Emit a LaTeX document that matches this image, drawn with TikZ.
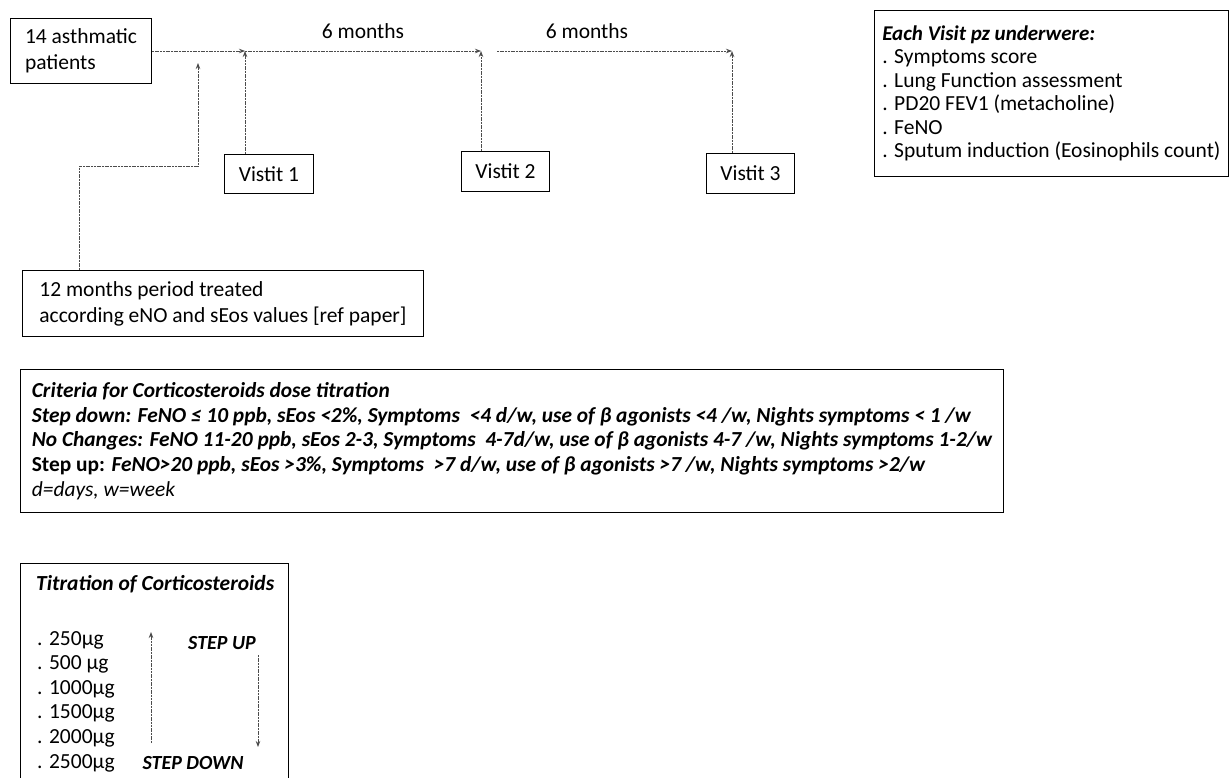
\documentclass[tikz,border=0pt]{standalone}
\usepackage{fontspec}
\setmainfont{Carlito}
\usetikzlibrary{arrows.meta}
\begin{document}
\begin{tikzpicture}[x=1pt,y=-1pt,
  box/.style={draw=black, line width=1pt, inner sep=0pt, align=left},
  conn/.style={draw=black!70, line width=0.9pt, dash pattern=on 2pt off 0.7pt},
  arr/.style={conn, -{Stealth[length=6pt,width=4.5pt]}},
  txt/.style={font=\fontsize{21.5}{26}\selectfont},
  bi/.style={font=\fontsize{21.5}{24}\selectfont\bfseries\itshape},
  bis/.style={font=\fontsize{20}{24}\selectfont\bfseries\itshape}]
\useasboundingbox (0,0) rectangle (1230,778);
\fill[white] (0,0) rectangle (1230,778);

% top timeline
\node[box, txt, anchor=north west, minimum width=141, minimum height=65] (pat) at (10,18) {14 asthmatic\\patients};
\node[txt] (m1) at (363,31) {6 months};
\node[txt] (m2) at (587,31) {6 months};

\coordinate (t1) at (245,51);
\coordinate (t2) at (481,51);
\coordinate (t3a) at (497,51);
\coordinate (t3) at (732,51);

\node[box, txt, anchor=north west, minimum width=89, minimum height=39] (v1) at (224,154) {Vistit 1};
\node[box, txt, anchor=north west, minimum width=88, minimum height=40] (v2) at (461,151) {Vistit 2};
\node[box, txt, anchor=north west, minimum width=88, minimum height=40] (v3) at (706,153) {Vistit 3};

\draw[arr] (pat.east |- t1) -- (t1);
\draw[arr] (t1) -- (t2);
\draw[arr] (t3a) -- (t3);
\draw[arr] (v1.north -| t1) -- (t1);
\draw[arr] (v2.north -| t2) -- (t2);
\draw[arr] (v3.north -| t3) -- (t3);

% 12 months box
\node[box, txt, anchor=north west, minimum width=401, minimum height=66] (mo) at (22,270) {12 months period treated\\according eNO and sEos values [ref paper]};
\coordinate (k1) at (79,166);
\coordinate (k2) at (198,166);
\coordinate (k3) at (198,63);
\draw[arr] (mo.north -| k1) -- (k1) -- (k2) -- (k3);

% each visit box
\node[box, anchor=north west, minimum width=354, minimum height=166, font=\fontsize{21.5}{23.5}\selectfont] (ev) at (874,10)
 {{\bfseries\itshape\fontsize{21}{23.5}\selectfont Each Visit pz underwere:}\\
  . Symptoms score\\
  . Lung Function assessment\\
  . PD20 FEV1 (metacholine)\\
  . FeNO\\
  . Sputum induction (Eosinophils count)};

% criteria box
\node[box, anchor=north west, minimum width=983, minimum height=143, font=\fontsize{21.4}{24.75}\selectfont\bfseries\itshape] (cr) at (20,369)
 {Criteria for Corticosteroids dose titration\\
  Step down: FeNO ≤ 10 ppb, sEos <2\%, Symptoms~ <4 d/w, use of β agonists <4 /w, Nights symptoms < 1 /w\\
  No Changes: FeNO 11-20 ppb, sEos 2-3, Symptoms~ 4-7d/w, use of β agonists 4-7 /w, Nights symptoms 1-2/w\\
  {\upshape Step up:} FeNO>20 ppb, sEos >3\%, Symptoms~ >7 d/w, use of β agonists >7 /w, Nights symptoms >2/w\\
  {\mdseries d=days, w=week}};

% titration box
\node[box, anchor=north west, minimum width=268, minimum height=240] (tb) at (20,563) {};
\node[bi, anchor=west, inner sep=0pt] (tt) at (36,584) {Titration of Corticosteroids};
\node[anchor=west, align=left, inner sep=0pt, font=\fontsize{21.5}{24.6}\selectfont] (items) at (37,701.5)
 {. 250µg\\ . 500 µg\\ . 1000µg\\ . 1500µg\\ . 2000µg\\ . 2500µg};
\coordinate (ua) at (151,743);
\coordinate (ub) at (151,632);
\coordinate (da) at (258,655);
\coordinate (db) at (258,747);
\draw[arr] (ua) -- (ub);
\draw[arr] (da) -- (db);
\node[bis] (su) at (222,643) {STEP UP};
\node[bis] (sd) at (193,763) {STEP DOWN};
\end{tikzpicture}
\end{document}
